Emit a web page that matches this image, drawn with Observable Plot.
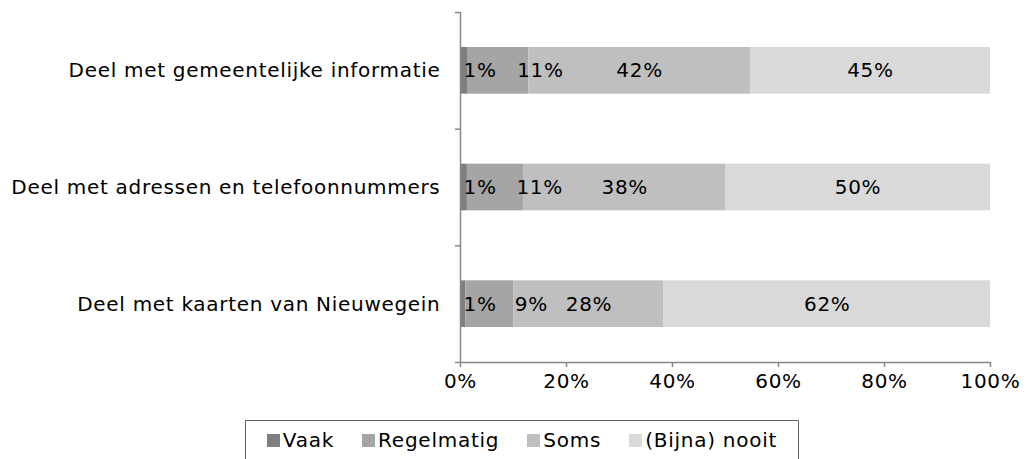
<!DOCTYPE html>
<html><head><meta charset="utf-8">
<script src="https://cdn.jsdelivr.net/npm/d3@7"></script>
<script src="https://cdn.jsdelivr.net/npm/@observablehq/plot@0.6"></script>
<style>
body{margin:0;background:#fff;font-family:"DejaVu Sans",Verdana,sans-serif;}
#chart svg{display:block;}
#chart svg text{letter-spacing:0.7px;}
#legend{position:absolute;left:245px;top:420px;width:554px;height:50px;box-sizing:border-box;border:1px solid #666;display:flex;align-items:flex-start;padding-top:7px;justify-content:center;gap:28px;font-size:20px;letter-spacing:0.75px;color:#000;}
#legend .item{display:flex;align-items:center;gap:3px;}
#legend .sw{width:13px;height:13px;display:inline-block;}
</style></head><body>
<div id="chart"></div>
<div id="legend"></div>
<script>
const categories = ["Deel met gemeentelijke informatie", "Deel met adressen en telefoonnummers", "Deel met kaarten van Nieuwegein"];
const series = ["Vaak", "Regelmatig", "Soms", "(Bijna) nooit"];
const vaak = [1.45, 1.3, 1.0];
const regelmatig = [11.45, 10.7, 9.1];
const soms = [41.8, 38.0, 28.3];
const nooit = [45.3, 50.0, 61.6];
const xTicks = [0, 20, 40, 60, 80, 100];
const colors = ["#7f7f7f", "#a5a5a5", "#bfbfbf", "#d9d9d9"];

const seriesValues = [vaak, regelmatig, soms, nooit];
const rows = [];
categories.forEach((c, i) => {
  let acc = 0;
  series.forEach((s, j) => {
    const v = seriesValues[j][i];
    rows.push({cat: i, series: s, value: v, start: acc, end: acc + v, label: Math.round(v) + "%"});
    acc += v;
  });
});

const fontSize = 20;
const plot = Plot.plot({
  width: 1029,
  height: 416,
  marginLeft: 460,
  marginRight: 39,
  marginTop: 12,
  marginBottom: 54,
  style: {fontFamily: '"DejaVu Sans", Verdana, sans-serif', fontSize: fontSize + "px", color: "#000", background: "#fff"},
  x: {domain: [0, 100], label: null},
  y: {domain: [0, categories.length], reverse: true, label: null},
  color: {domain: series, range: colors},
  marks: [
    Plot.rect(rows, {x1: "start", x2: "end", y1: "cat", y2: d => d.cat + 1, fill: "series", insetTop: 35, insetBottom: 35}),
    Plot.text(rows.filter(d => d.series === series[0]), {x: "start", y: d => d.cat + 0.5, text: "label", textAnchor: "start", dx: 3, fontSize, fill: "#000"}),
    Plot.text(rows.filter(d => d.series === series[1]), {x: "start", y: d => d.cat + 0.5, text: "label", textAnchor: "start", dx: 49, fontSize, fill: "#000"}),
    Plot.text(rows.filter(d => d.series === series[2] || d.series === series[3]), {x: d => (d.start + d.end) / 2, y: d => d.cat + 0.5, text: "label", fontSize, fill: "#000"}),
    Plot.ruleX([0], {stroke: "#868686", strokeWidth: 1.5}),
    Plot.ruleY([categories.length], {stroke: "#868686", strokeWidth: 1.5}),
    Plot.axisY({ticks: categories.map((c, i) => i + 0.5), tickFormat: v => categories[Math.floor(v)], tickSize: 0, tickPadding: 20, fontSize, fill: "#000", label: null}),
    Plot.axisY({ticks: d3.range(categories.length + 1), tickFormat: () => "", tickSize: 5, stroke: "#868686", strokeWidth: 1.5, label: null}),
    Plot.axisX({ticks: xTicks, tickFormat: d => d + "%", tickSize: 5, tickPadding: 6, stroke: "#868686", strokeWidth: 1.5, fontSize, fill: "#000", label: null})
  ]
});
document.getElementById("chart").appendChild(plot);

const legend = document.getElementById("legend");
series.forEach((s, j) => {
  const item = document.createElement("span");
  item.className = "item";
  const sw = document.createElement("span");
  sw.className = "sw";
  sw.style.background = colors[j];
  const t = document.createElement("span");
  t.textContent = s;
  item.appendChild(sw);
  item.appendChild(t);
  legend.appendChild(item);
});
</script>
</body></html>
